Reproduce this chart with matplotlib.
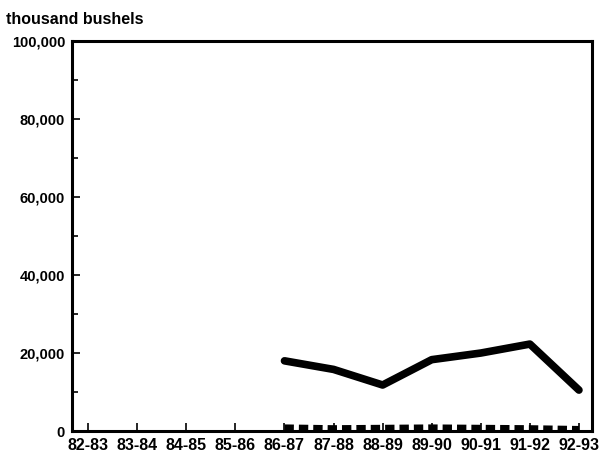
import numpy as np
import matplotlib.pyplot as plt
from matplotlib.ticker import MultipleLocator, FuncFormatter

plt.rcParams['font.family'] = ['Liberation Sans', 'DejaVu Sans']

years = ['82-83', '83-84', '84-85', '85-86', '86-87', '87-88', '88-89',
         '89-90', '90-91', '91-92', '92-93']
main_vals = [None, None, None, None, 18000, 15800, 11800, 18300, 20000, 22300, 10500]
small_vals = [None, None, None, None, 900, 700, 800, 900, 800, 700, 500]

x = np.arange(len(years))
main = np.array([np.nan if v is None else v for v in main_vals], dtype=float)
small = np.array([np.nan if v is None else v for v in small_vals], dtype=float)

fig = plt.figure(figsize=(6, 4.61), dpi=100)
ax = fig.add_axes([0.12, 0.065, 0.867, 0.846])

ax.plot(x, main, color='black', lw=5.5, solid_capstyle='round')
ax.plot(x, small, color='black', lw=4.5, linestyle=(0, (1.5, 0.8)))

ax.set_xlim(-0.33, 10.27)
ax.set_ylim(0, 100000)
ax.set_xticks(x)
ax.set_xticklabels(years)
ax.yaxis.set_major_locator(MultipleLocator(20000))
ax.yaxis.set_minor_locator(MultipleLocator(10000))
ax.yaxis.set_major_formatter(FuncFormatter(lambda v, p: f'{int(v):,}'))

for s in ax.spines.values():
    s.set_linewidth(2.2)
ax.tick_params(axis='both', direction='in', length=6, width=1.2)
ax.tick_params(axis='x', labelsize=11.5, pad=5)
ax.tick_params(axis='y', labelsize=10.5, pad=5)
ax.tick_params(axis='y', which='minor', direction='in', length=4, width=1.2)
for lbl in ax.get_xticklabels() + ax.get_yticklabels():
    lbl.set_fontweight('bold')

fig.text(0.01, 0.975, 'thousand bushels', fontsize=11.5, fontweight='bold', va='top')

fig.savefig('out.png', dpi=100)
